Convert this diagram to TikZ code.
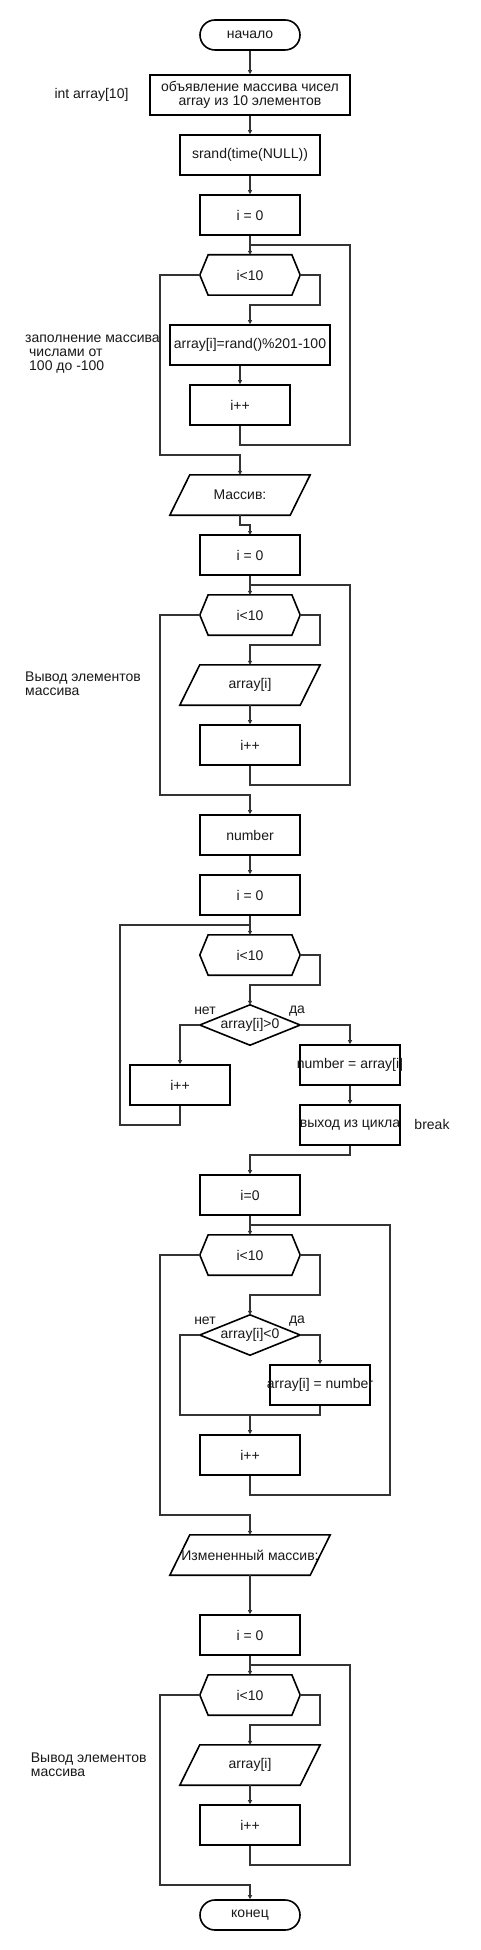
\documentclass[tikz,border=0pt]{standalone}
\usepackage{fontspec}
\setmainfont{Liberation Sans}
\usetikzlibrary{arrows.meta}
\tikzset{
  every node/.style={font=\fontsize{14}{14}\selectfont, inner sep=0pt, text=black!90},
  shp/.style={draw=black, line width=1.6pt},
  box/.style={shp, rectangle, minimum width=#1, minimum height=40pt},
  box/.default=100pt,
  term/.style={shp, rectangle, minimum width=100pt, minimum height=30pt, rounded corners=15pt},
  bare/.style={rectangle, minimum width=#1, minimum height=40pt},
  hexa/.style={bare=100pt, append after command={\pgfextra{\draw[shp]
     ([xshift=8.33pt]\tikzlastnode.north west) -- ([xshift=-8.33pt]\tikzlastnode.north east) --
     (\tikzlastnode.east) -- ([xshift=-8.33pt]\tikzlastnode.south east) --
     ([xshift=8.33pt]\tikzlastnode.south west) -- (\tikzlastnode.west) -- cycle;}}},
  dia/.style={bare=100pt, append after command={\pgfextra{\draw[shp]
     (\tikzlastnode.north) -- (\tikzlastnode.east) -- (\tikzlastnode.south) -- (\tikzlastnode.west) -- cycle;}}},
  para/.style={bare=#1, append after command={\pgfextra{\draw[shp]
     ([xshift=10pt]\tikzlastnode.north west) -- ([xshift=10pt]\tikzlastnode.north east) --
     ([xshift=-10pt]\tikzlastnode.south east) -- ([xshift=-10pt]\tikzlastnode.south west) -- cycle;}}},
  conn/.style={draw=black!80, line width=1.2pt},
  arr/.style={conn, -{Triangle[length=4pt,width=4pt]}},
  lbl/.style={align=left, anchor=west}
}
\begin{document}
\begin{tikzpicture}[x=1pt,y=-1pt]
\fill[white] (0,0) rectangle (480,1950);
\useasboundingbox (0,0) rectangle (480,1950);

% ---------- section 1
\node[term] (start) at (250,35) {начало};
\node[box=200pt, align=center] (decl) at (250,95) {объявление массива чисел\\array из 10 элементов};
\node (declL) at (91.5,95) {int array[10]};
\node[box=140pt] (srand) at (250,155) {srand(time(NULL))};
\node[box] (i0a) at (250,215) {i = 0};
\node[hexa] (h1) at (250,275) {i<10};
\node[box=160pt] (fill) at (250,345) {array[i]=rand()\%201-100};
\node[lbl] (fillL) at (25,354) {заполнение массива\\\hspace*{4pt}числами от\\\hspace*{4pt}100 до -100};
\node[box] (inc1) at (240,405) {i++};
\node[para=120pt] (out1) at (240,495) {Массив:};

\draw[arr] (start) -- (decl);
\draw[arr] (decl) -- (srand);
\draw[arr] (srand) -- (i0a);
\draw[arr] (i0a) -- (h1);
\draw[conn] (inc1.south) -- (240,445) -| (350,245) -- (250,245);
\draw[arr] (h1.east) -- (320,275) |- (250,305) -- (fill.north);
\draw[arr] (inc1.north |- fill.south) -- (inc1.north);
\draw[arr] (h1.west) -- (160,275) |- (240,455) -- (out1.north);
\draw[arr] (out1.south) -- (240,525) -- (250,525) -- (250,535);

% ---------- section 2
\node[box] (i0b) at (250,555) {i = 0};
\node[hexa] (h2) at (250,615) {i<10};
\node[para=120pt] (out2) at (250,685) {array[i]};
\node[lbl] (outL1) at (25,684) {Вывод элементов\\массива};
\node[box] (inc2) at (250,745) {i++};
\node[box] (num) at (250,835) {number};

\draw[arr] (i0b) -- (h2);
\draw[conn] (inc2.south) -- (250,785) -| (350,585) -- (250,585);
\draw[arr] (h2.east) -- (320,615) |- (250,645) -- (out2.north);
\draw[arr] (out2) -- (inc2);
\draw[arr] (h2.west) -- (160,615) |- (250,795) -- (num.north);

% ---------- section 3
\node[box] (i0c) at (250,895) {i = 0};
\node[hexa] (h3) at (250,955) {i<10};
\node[dia] (d1) at (250,1025) {array[i]>0};
\node (no1) at (205,1011) {нет};
\node (yes1) at (297,1011) {да};
\node[box] (inc3) at (180,1085) {i++};
\node[box] (set1) at (350,1065) {\makebox[0pt]{number = array[i]}};
\node[box] (brk) at (350,1125) {\makebox[0pt]{выход из цикла}};
\node (brkL) at (432,1124) {break};

\draw[arr] (num) -- (i0c);
\draw[arr] (i0c) -- (h3);
\draw[conn] (inc3.south) -- (180,1125) -| (120,925) -- (250,925);
\draw[arr] (h3.east) -- (320,955) |- (250,985) -- (d1.north);
\draw[arr] (d1.west) -| (inc3.north);
\draw[arr] (d1.east) -| (set1.north);
\draw[arr] (set1) -- (brk);

% ---------- section 4
\node[box] (i0d) at (250,1195) {i=0};
\node[hexa] (h4) at (250,1255) {i<10};
\node[dia] (d2) at (250,1335) {array[i]<0};
\node (no2) at (205,1321) {нет};
\node (yes2) at (297,1321) {да};
\node[box] (set2) at (320,1385) {\makebox[0pt]{array[i] = number}};
\node[box] (inc4) at (250,1455) {i++};
\node[para=140pt] (out3) at (250,1555) {\makebox[0pt]{Измененный массив:}};

\draw[arr] (brk.south) -- (350,1155) -| (i0d.north);
\draw[arr] (i0d) -- (h4);
\draw[conn] (inc4.south) -- (250,1495) -| (390,1225) -- (250,1225);
\draw[arr] (h4.east) -- (320,1255) |- (250,1295) -- (d2.north);
\draw[arr] (d2.east) -| (set2.north);
\draw[conn] (set2.south) |- (250,1415);
\draw[arr] (d2.west) -- (180,1335) |- (250,1415) -- (inc4.north);
\draw[arr] (h4.west) -- (160,1255) |- (250,1515) -- (out3.north);

% ---------- section 5
\node[box] (i0e) at (250,1635) {i = 0};
\node[hexa] (h5) at (250,1695) {i<10};
\node[para=120pt] (out4) at (250,1765) {array[i]};
\node[lbl] (outL2) at (30.7,1764.5) {Вывод элементов\\массива};
\node[box] (inc5) at (250,1825) {i++};
\node[term] (stop) at (250,1915) {конец};

\draw[arr] (out3) -- (i0e);
\draw[arr] (i0e) -- (h5);
\draw[conn] (inc5.south) -- (250,1865) -| (350,1665) -- (250,1665);
\draw[arr] (h5.east) -- (320,1695) |- (250,1725) -- (out4.north);
\draw[arr] (out4) -- (inc5);
\draw[arr] (h5.west) -- (160,1695) |- (250,1885) -- (stop.north);
\end{tikzpicture}
\end{document}
